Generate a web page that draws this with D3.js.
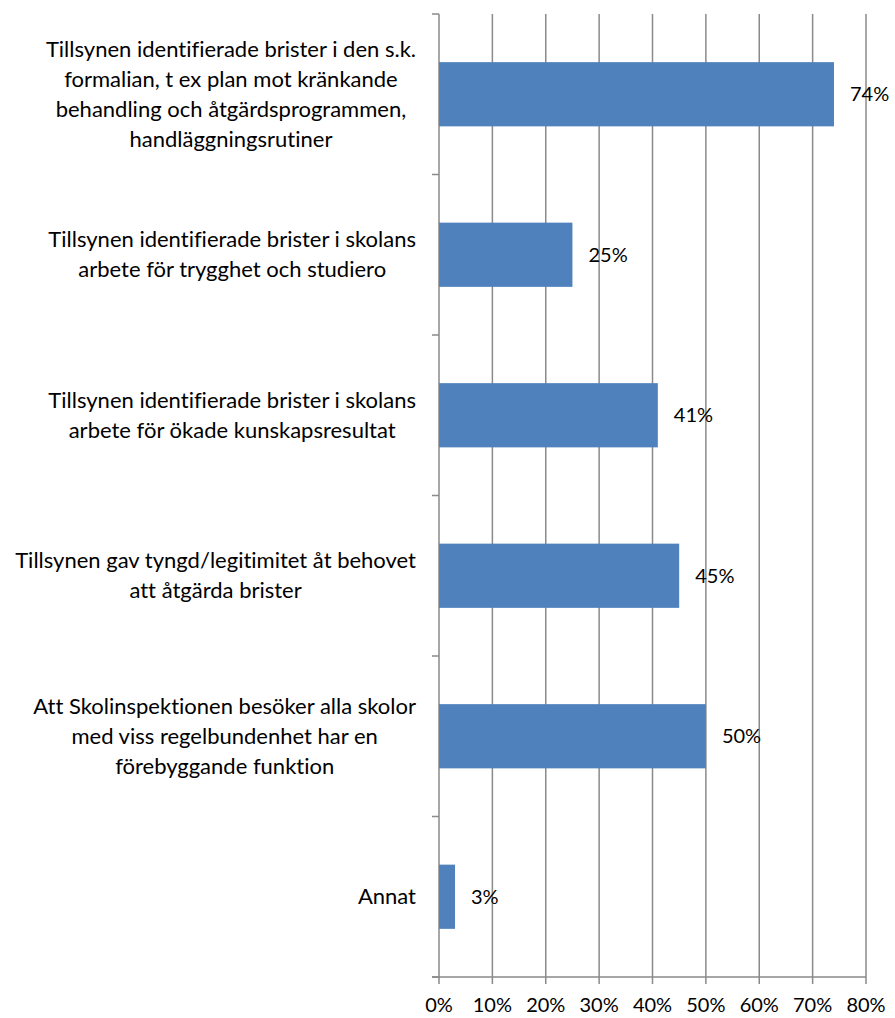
<!DOCTYPE html>
<meta charset="utf-8" />
<script src="https://d3js.org/d3.v7.min.js"></script>
<style>
  body { margin: 0; background: #fff; }
  text { font-family: Lato, "Open Sans", sans-serif; fill: #000; font-variant-ligatures: none; }
</style>
<body>
  <div id="my_dataviz"></div>
</body>
<script>
  // categories (lines of each label), top to bottom
  var categories = [
    ["Tillsynen identifierade brister i den s.k.", "formalian, t ex plan mot kränkande", "behandling och åtgärdsprogrammen,", "handläggningsrutiner"],
    ["Tillsynen identifierade brister i skolans", "arbete för trygghet och studiero"],
    ["Tillsynen identifierade brister i skolans", "arbete för ökade kunskapsresultat"],
    ["Tillsynen gav tyngd/legitimitet åt behovet", "att åtgärda brister"],
    ["Att Skolinspektionen besöker alla skolor", "med viss regelbundenhet har en", "förebyggande funktion"],
    ["Annat"]
  ];
  var values = [74, 25, 41, 45, 50, 3];
  var xTicks = [0, 10, 20, 30, 40, 50, 60, 70, 80];

  var margin = { top: 14, right: 29, bottom: 41, left: 439 },
    width = 895 - margin.left - margin.right,
    height = 1018 - margin.top - margin.bottom;

  var svg = d3.select("#my_dataviz")
    .append("svg")
    .attr("width", 895)
    .attr("height", 1018)
    .append("g")
    .attr("transform", "translate(" + margin.left + "," + margin.top + ")");

  var x = d3.scaleLinear().domain([0, 80]).range([0, width]);
  var y = d3.scaleBand()
    .domain(d3.range(categories.length))
    .range([0, height])
    .paddingInner(0.6)
    .paddingOuter(0.3);
  var step = height / categories.length;

  var gridColor = "#8a8a8a";

  // vertical gridlines
  svg.selectAll(".grid")
    .data(xTicks)
    .enter()
    .append("line")
    .attr("x1", function (d) { return x(d); })
    .attr("x2", function (d) { return x(d); })
    .attr("y1", 0)
    .attr("y2", height + 7)
    .attr("stroke", gridColor)
    .attr("stroke-width", 1.5);

  // x axis line
  svg.append("line")
    .attr("x1", -7).attr("x2", x(80))
    .attr("y1", height).attr("y2", height)
    .attr("stroke", gridColor).attr("stroke-width", 1.5);

  // y axis category separator ticks
  svg.selectAll(".ytick")
    .data(d3.range(categories.length + 1))
    .enter()
    .append("line")
    .attr("x1", -7).attr("x2", 0)
    .attr("y1", function (d) { return d * step; })
    .attr("y2", function (d) { return d * step; })
    .attr("stroke", gridColor).attr("stroke-width", 1.5);

  // x tick labels
  svg.selectAll(".xlab")
    .data(xTicks)
    .enter()
    .append("text")
    .attr("x", function (d) { return x(d); })
    .attr("y", height + 35)
    .attr("text-anchor", "middle")
    .style("font-size", "20px")
    .text(function (d) { return d + "%"; });

  // bars
  svg.selectAll("rect")
    .data(values)
    .enter()
    .append("rect")
    .attr("x", 0)
    .attr("y", function (d, i) { return y(i); })
    .attr("width", function (d) { return x(d); })
    .attr("height", y.bandwidth())
    .attr("fill", "#4f81bd");

  // value labels
  svg.selectAll(".val")
    .data(values)
    .enter()
    .append("text")
    .attr("x", function (d) { return x(d) + 16; })
    .attr("y", function (d, i) { return y(i) + y.bandwidth() / 2; })
    .attr("dy", "0.35em")
    .style("font-size", "20px")
    .text(function (d) { return d + "%"; });

  // category labels: block right-aligned at axis, lines centred inside block
  var lineH = 30;
  categories.forEach(function (lines, i) {
    var g = svg.append("g");
    var texts = lines.map(function (l) {
      return g.append("text").style("font-size", "22px").attr("text-anchor", "middle").text(l);
    });
    var w = d3.max(texts, function (t) { return t.node().getComputedTextLength(); });
    var cx = -23 - w / 2;
    var cy = y(i) + y.bandwidth() / 2;
    texts.forEach(function (t, j) {
      t.attr("x", cx)
        .attr("y", cy + (j - (lines.length - 1) / 2) * lineH)
        .attr("dy", "0.35em");
    });
  });
</script>
